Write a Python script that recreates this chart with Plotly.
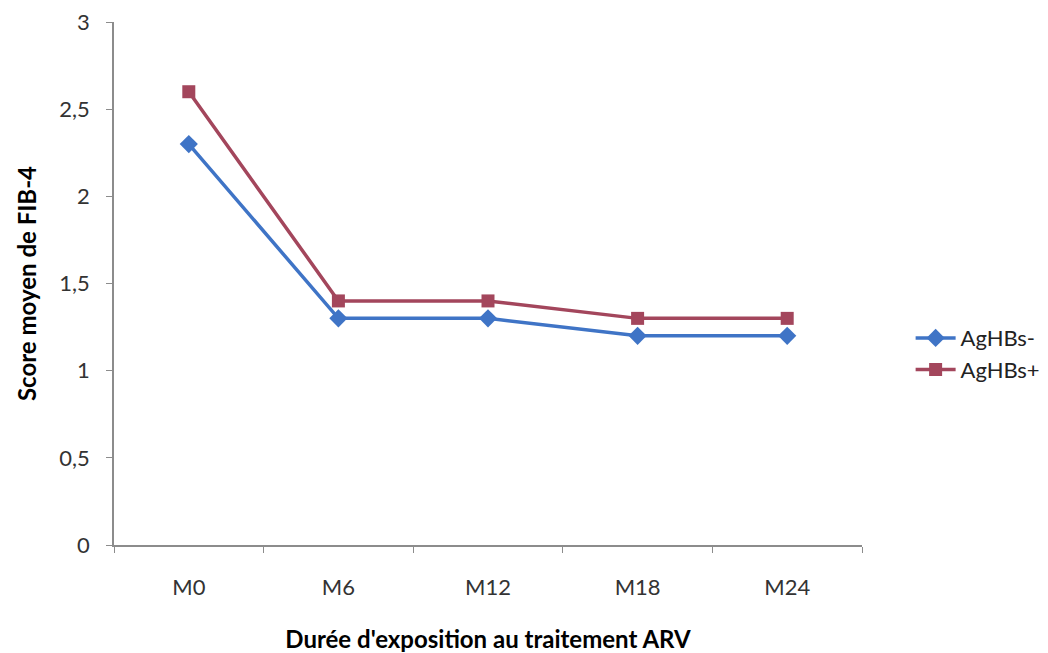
import plotly.graph_objects as go

# Mean FIB-4 score by duration of ARV treatment
periods = ["M0", "M6", "M12", "M18", "M24"]
agHBs_neg = [2.3, 1.3, 1.3, 1.2, 1.2]
agHBs_pos = [2.6, 1.4, 1.4, 1.3, 1.3]
y_ticks = [0, 0.5, 1, 1.5, 2, 2.5, 3]

BLUE = "#3F74C6"
RED = "#A3465C"
FONT = "Lato"

fig = go.Figure()
fig.add_trace(go.Scatter(
    x=periods, y=agHBs_neg, name="AgHBs-", mode="lines+markers",
    line=dict(color=BLUE, width=3.5),
    marker=dict(symbol="diamond", size=14, color=BLUE),
))
fig.add_trace(go.Scatter(
    x=periods, y=agHBs_pos, name="AgHBs+", mode="lines+markers",
    line=dict(color=RED, width=3.5),
    marker=dict(symbol="square", size=13, color=RED),
))

axis_font = dict(family=FONT, size=22, color="#333333")
title_font = dict(family=FONT, size=24, color="#000000", weight="bold")

fig.update_layout(
    width=1048, height=653,
    margin=dict(l=114, r=186, t=22, b=108, autoexpand=False),
    paper_bgcolor="white", plot_bgcolor="white",
    separators=", ",
    font=dict(family=FONT),
    showlegend=True,
    legend=dict(
        x=1.065, y=0.365, xanchor="left", yanchor="middle",
        font=dict(family=FONT, size=22, color="#222222"),
        bgcolor="rgba(0,0,0,0)", tracegroupgap=0, itemwidth=40,
    ),
    xaxis=dict(
        type="category", tickson="boundaries", range=[-0.5, 4.5],
        showline=True, linecolor="#8C8C8C", linewidth=1.5,
        ticks="outside", ticklen=6, tickcolor="#8C8C8C",
        showgrid=False, zeroline=False,
        tickfont=axis_font, ticklabelstandoff=22,
        title=dict(text="Durée d'exposition au traitement ARV", font=title_font, standoff=32),
    ),
    yaxis=dict(
        range=[0, 3], tickvals=y_ticks,
        showline=True, linecolor="#8C8C8C", linewidth=1.5,
        ticks="outside", ticklen=6, tickcolor="#8C8C8C",
        showgrid=False, zeroline=False,
        tickfont=axis_font, ticklabelstandoff=12,
        title=dict(text="Score moyen de FIB-4", font=title_font, standoff=16),
    ),
)

fig.write_html("out.html")
